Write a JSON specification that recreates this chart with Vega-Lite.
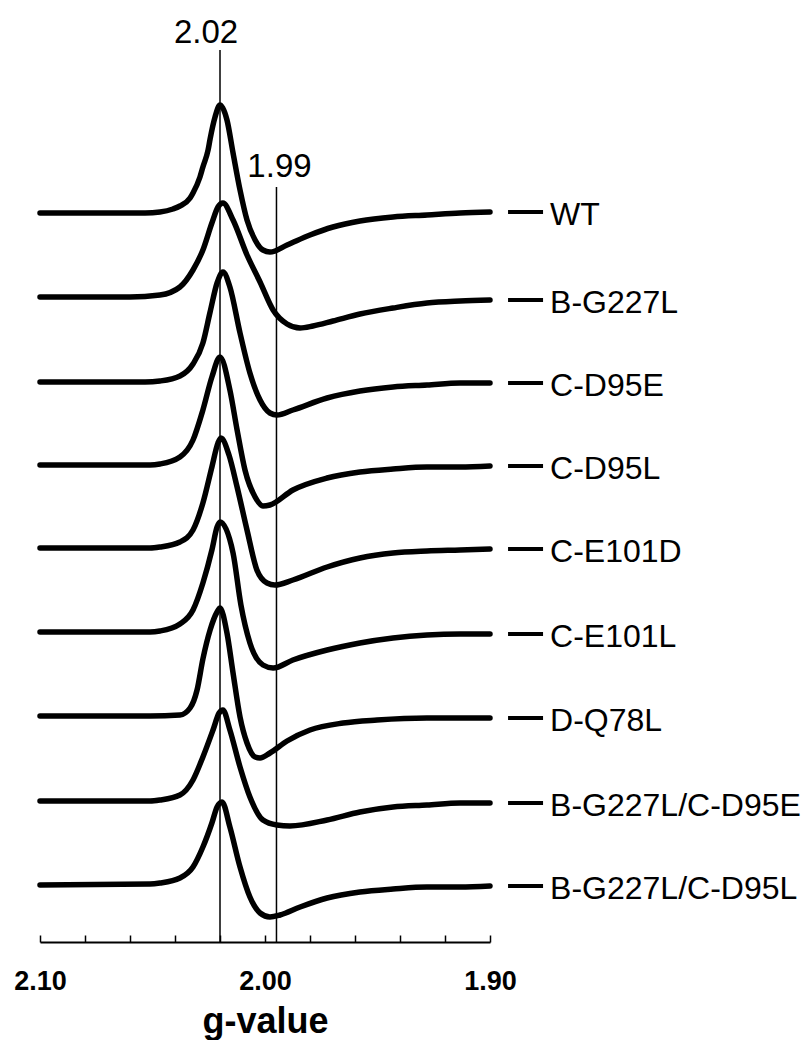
{
  "$schema": "https://vega.github.io/schema/vega-lite/v6.json",
  "autosize": {"type": "none"},
  "width": 450,
  "height": 942,
  "padding": {"left": 40, "top": 0, "right": 313, "bottom": 98},
  "background": "white",
  "config": {
    "view": {"stroke": null},
    "font": "Liberation Sans"
  },
  "datasets": {
    "markers": [
      {"g": 2.02, "bottom": 0, "top": 892},
      {"g": 1.9949, "bottom": 0, "top": 755}
    ],
    "spectra": [
      {"sample": "WT", "g": 2.1, "v": 729},
      {"sample": "WT", "g": 2.0733, "v": 729},
      {"sample": "WT", "g": 2.0533, "v": 729},
      {"sample": "WT", "g": 2.0467, "v": 730},
      {"sample": "WT", "g": 2.0409, "v": 733},
      {"sample": "WT", "g": 2.0378, "v": 736},
      {"sample": "WT", "g": 2.0333, "v": 744},
      {"sample": "WT", "g": 2.032, "v": 749},
      {"sample": "WT", "g": 2.0289, "v": 765},
      {"sample": "WT", "g": 2.0276, "v": 775},
      {"sample": "WT", "g": 2.0253, "v": 792},
      {"sample": "WT", "g": 2.0244, "v": 803},
      {"sample": "WT", "g": 2.0222, "v": 825},
      {"sample": "WT", "g": 2.02, "v": 837},
      {"sample": "WT", "g": 2.0169, "v": 822},
      {"sample": "WT", "g": 2.0142, "v": 789},
      {"sample": "WT", "g": 2.0111, "v": 752},
      {"sample": "WT", "g": 2.008, "v": 722},
      {"sample": "WT", "g": 2.0044, "v": 702},
      {"sample": "WT", "g": 2.0009, "v": 692},
      {"sample": "WT", "g": 1.9978, "v": 690},
      {"sample": "WT", "g": 1.9902, "v": 697},
      {"sample": "WT", "g": 1.98, "v": 707},
      {"sample": "WT", "g": 1.9698, "v": 715},
      {"sample": "WT", "g": 1.9578, "v": 721},
      {"sample": "WT", "g": 1.9431, "v": 725},
      {"sample": "WT", "g": 1.928, "v": 727},
      {"sample": "WT", "g": 1.9133, "v": 729},
      {"sample": "WT", "g": 1.9, "v": 730},

      {"sample": "B-G227L", "g": 2.1, "v": 645},
      {"sample": "B-G227L", "g": 2.06, "v": 645},
      {"sample": "B-G227L", "g": 2.0467, "v": 647},
      {"sample": "B-G227L", "g": 2.0378, "v": 655},
      {"sample": "B-G227L", "g": 2.032, "v": 672},
      {"sample": "B-G227L", "g": 2.0276, "v": 692},
      {"sample": "B-G227L", "g": 2.0236, "v": 719},
      {"sample": "B-G227L", "g": 2.0209, "v": 735},
      {"sample": "B-G227L", "g": 2.0187, "v": 739},
      {"sample": "B-G227L", "g": 2.0142, "v": 722},
      {"sample": "B-G227L", "g": 2.008, "v": 687},
      {"sample": "B-G227L", "g": 2.0022, "v": 660},
      {"sample": "B-G227L", "g": 1.9964, "v": 632},
      {"sample": "B-G227L", "g": 1.9902, "v": 618},
      {"sample": "B-G227L", "g": 1.9844, "v": 614},
      {"sample": "B-G227L", "g": 1.9787, "v": 616},
      {"sample": "B-G227L", "g": 1.9698, "v": 621},
      {"sample": "B-G227L", "g": 1.9578, "v": 628},
      {"sample": "B-G227L", "g": 1.9431, "v": 634},
      {"sample": "B-G227L", "g": 1.928, "v": 639},
      {"sample": "B-G227L", "g": 1.9133, "v": 641},
      {"sample": "B-G227L", "g": 1.9, "v": 642},

      {"sample": "C-D95E", "g": 2.1, "v": 560},
      {"sample": "C-D95E", "g": 2.0533, "v": 560},
      {"sample": "C-D95E", "g": 2.0467, "v": 561},
      {"sample": "C-D95E", "g": 2.0378, "v": 566},
      {"sample": "C-D95E", "g": 2.032, "v": 578},
      {"sample": "C-D95E", "g": 2.0276, "v": 599},
      {"sample": "C-D95E", "g": 2.0244, "v": 630},
      {"sample": "C-D95E", "g": 2.0213, "v": 659},
      {"sample": "C-D95E", "g": 2.0187, "v": 670},
      {"sample": "C-D95E", "g": 2.0156, "v": 655},
      {"sample": "C-D95E", "g": 2.0111, "v": 609},
      {"sample": "C-D95E", "g": 2.0067, "v": 569},
      {"sample": "C-D95E", "g": 2.0022, "v": 542},
      {"sample": "C-D95E", "g": 1.9978, "v": 529},
      {"sample": "C-D95E", "g": 1.9947, "v": 527},
      {"sample": "C-D95E", "g": 1.9876, "v": 532},
      {"sample": "C-D95E", "g": 1.9724, "v": 544},
      {"sample": "C-D95E", "g": 1.9578, "v": 551},
      {"sample": "C-D95E", "g": 1.9431, "v": 555},
      {"sample": "C-D95E", "g": 1.928, "v": 557},
      {"sample": "C-D95E", "g": 1.9133, "v": 559},
      {"sample": "C-D95E", "g": 1.9, "v": 559},

      {"sample": "C-D95L", "g": 2.1, "v": 477},
      {"sample": "C-D95L", "g": 2.0511, "v": 477},
      {"sample": "C-D95L", "g": 2.0467, "v": 478},
      {"sample": "C-D95L", "g": 2.0378, "v": 485},
      {"sample": "C-D95L", "g": 2.032, "v": 502},
      {"sample": "C-D95L", "g": 2.0276, "v": 532},
      {"sample": "C-D95L", "g": 2.0236, "v": 565},
      {"sample": "C-D95L", "g": 2.02, "v": 585},
      {"sample": "C-D95L", "g": 2.0156, "v": 552},
      {"sample": "C-D95L", "g": 2.0124, "v": 512},
      {"sample": "C-D95L", "g": 2.0089, "v": 472},
      {"sample": "C-D95L", "g": 2.0044, "v": 445},
      {"sample": "C-D95L", "g": 2.0009, "v": 436},
      {"sample": "C-D95L", "g": 1.9978, "v": 437},
      {"sample": "C-D95L", "g": 1.9876, "v": 452},
      {"sample": "C-D95L", "g": 1.9724, "v": 464},
      {"sample": "C-D95L", "g": 1.9578, "v": 470},
      {"sample": "C-D95L", "g": 1.9431, "v": 473},
      {"sample": "C-D95L", "g": 1.928, "v": 475},
      {"sample": "C-D95L", "g": 1.9133, "v": 475},
      {"sample": "C-D95L", "g": 1.9, "v": 476},

      {"sample": "C-E101D", "g": 2.1, "v": 394},
      {"sample": "C-E101D", "g": 2.0511, "v": 394},
      {"sample": "C-E101D", "g": 2.0467, "v": 395},
      {"sample": "C-E101D", "g": 2.0378, "v": 400},
      {"sample": "C-E101D", "g": 2.032, "v": 412},
      {"sample": "C-E101D", "g": 2.0276, "v": 439},
      {"sample": "C-E101D", "g": 2.0236, "v": 475},
      {"sample": "C-E101D", "g": 2.0209, "v": 499},
      {"sample": "C-E101D", "g": 2.0196, "v": 504},
      {"sample": "C-E101D", "g": 2.016, "v": 487},
      {"sample": "C-E101D", "g": 2.0124, "v": 455},
      {"sample": "C-E101D", "g": 2.008, "v": 412},
      {"sample": "C-E101D", "g": 2.0036, "v": 372},
      {"sample": "C-E101D", "g": 1.9991, "v": 359},
      {"sample": "C-E101D", "g": 1.9956, "v": 357},
      {"sample": "C-E101D", "g": 1.9876, "v": 362},
      {"sample": "C-E101D", "g": 1.9724, "v": 375},
      {"sample": "C-E101D", "g": 1.9578, "v": 384},
      {"sample": "C-E101D", "g": 1.9431, "v": 389},
      {"sample": "C-E101D", "g": 1.928, "v": 391},
      {"sample": "C-E101D", "g": 1.9133, "v": 392},
      {"sample": "C-E101D", "g": 1.9, "v": 393},

      {"sample": "C-E101L", "g": 2.1, "v": 310},
      {"sample": "C-E101L", "g": 2.0511, "v": 310},
      {"sample": "C-E101L", "g": 2.0467, "v": 311},
      {"sample": "C-E101L", "g": 2.0378, "v": 318},
      {"sample": "C-E101L", "g": 2.032, "v": 332},
      {"sample": "C-E101L", "g": 2.0276, "v": 359},
      {"sample": "C-E101L", "g": 2.0236, "v": 392},
      {"sample": "C-E101L", "g": 2.0213, "v": 415},
      {"sample": "C-E101L", "g": 2.02, "v": 420},
      {"sample": "C-E101L", "g": 2.0142, "v": 389},
      {"sample": "C-E101L", "g": 2.0107, "v": 337},
      {"sample": "C-E101L", "g": 2.0067, "v": 299},
      {"sample": "C-E101L", "g": 2.0009, "v": 277},
      {"sample": "C-E101L", "g": 1.9964, "v": 274},
      {"sample": "C-E101L", "g": 1.9876, "v": 282},
      {"sample": "C-E101L", "g": 1.9724, "v": 292},
      {"sample": "C-E101L", "g": 1.9578, "v": 299},
      {"sample": "C-E101L", "g": 1.9431, "v": 304},
      {"sample": "C-E101L", "g": 1.928, "v": 307},
      {"sample": "C-E101L", "g": 1.9133, "v": 308},
      {"sample": "C-E101L", "g": 1.9, "v": 308},

      {"sample": "D-Q78L", "g": 2.1, "v": 226},
      {"sample": "D-Q78L", "g": 2.0511, "v": 226},
      {"sample": "D-Q78L", "g": 2.0378, "v": 227},
      {"sample": "D-Q78L", "g": 2.0333, "v": 234},
      {"sample": "D-Q78L", "g": 2.0302, "v": 252},
      {"sample": "D-Q78L", "g": 2.0276, "v": 283},
      {"sample": "D-Q78L", "g": 2.0244, "v": 312},
      {"sample": "D-Q78L", "g": 2.0213, "v": 330},
      {"sample": "D-Q78L", "g": 2.02, "v": 334},
      {"sample": "D-Q78L", "g": 2.0169, "v": 309},
      {"sample": "D-Q78L", "g": 2.0142, "v": 269},
      {"sample": "D-Q78L", "g": 2.0111, "v": 225},
      {"sample": "D-Q78L", "g": 2.008, "v": 199},
      {"sample": "D-Q78L", "g": 2.0044, "v": 185},
      {"sample": "D-Q78L", "g": 2.0022, "v": 184},
      {"sample": "D-Q78L", "g": 1.9978, "v": 189},
      {"sample": "D-Q78L", "g": 1.9902, "v": 201},
      {"sample": "D-Q78L", "g": 1.98, "v": 212},
      {"sample": "D-Q78L", "g": 1.9653, "v": 219},
      {"sample": "D-Q78L", "g": 1.9502, "v": 222},
      {"sample": "D-Q78L", "g": 1.928, "v": 224},
      {"sample": "D-Q78L", "g": 1.9133, "v": 224},
      {"sample": "D-Q78L", "g": 1.9, "v": 224},

      {"sample": "B-G227L/C-D95E", "g": 2.1, "v": 141},
      {"sample": "B-G227L/C-D95E", "g": 2.0511, "v": 141},
      {"sample": "B-G227L/C-D95E", "g": 2.0467, "v": 142},
      {"sample": "B-G227L/C-D95E", "g": 2.0378, "v": 147},
      {"sample": "B-G227L/C-D95E", "g": 2.032, "v": 162},
      {"sample": "B-G227L/C-D95E", "g": 2.0276, "v": 185},
      {"sample": "B-G227L/C-D95E", "g": 2.0231, "v": 212},
      {"sample": "B-G227L/C-D95E", "g": 2.0204, "v": 229},
      {"sample": "B-G227L/C-D95E", "g": 2.0187, "v": 232},
      {"sample": "B-G227L/C-D95E", "g": 2.0156, "v": 212},
      {"sample": "B-G227L/C-D95E", "g": 2.0111, "v": 175},
      {"sample": "B-G227L/C-D95E", "g": 2.0067, "v": 145},
      {"sample": "B-G227L/C-D95E", "g": 2.0009, "v": 122},
      {"sample": "B-G227L/C-D95E", "g": 1.9947, "v": 117},
      {"sample": "B-G227L/C-D95E", "g": 1.9889, "v": 116},
      {"sample": "B-G227L/C-D95E", "g": 1.9724, "v": 122},
      {"sample": "B-G227L/C-D95E", "g": 1.9578, "v": 130},
      {"sample": "B-G227L/C-D95E", "g": 1.9431, "v": 135},
      {"sample": "B-G227L/C-D95E", "g": 1.928, "v": 137},
      {"sample": "B-G227L/C-D95E", "g": 1.9133, "v": 139},
      {"sample": "B-G227L/C-D95E", "g": 1.9, "v": 139},

      {"sample": "B-G227L/C-D95L", "g": 2.1, "v": 57},
      {"sample": "B-G227L/C-D95L", "g": 2.0511, "v": 58},
      {"sample": "B-G227L/C-D95L", "g": 2.0467, "v": 59},
      {"sample": "B-G227L/C-D95L", "g": 2.0378, "v": 64},
      {"sample": "B-G227L/C-D95L", "g": 2.032, "v": 75},
      {"sample": "B-G227L/C-D95L", "g": 2.0276, "v": 95},
      {"sample": "B-G227L/C-D95L", "g": 2.0236, "v": 119},
      {"sample": "B-G227L/C-D95L", "g": 2.0213, "v": 135},
      {"sample": "B-G227L/C-D95L", "g": 2.0191, "v": 140},
      {"sample": "B-G227L/C-D95L", "g": 2.0156, "v": 115},
      {"sample": "B-G227L/C-D95L", "g": 2.0111, "v": 75},
      {"sample": "B-G227L/C-D95L", "g": 2.0067, "v": 45},
      {"sample": "B-G227L/C-D95L", "g": 2.0022, "v": 29},
      {"sample": "B-G227L/C-D95L", "g": 1.9978, "v": 25},
      {"sample": "B-G227L/C-D95L", "g": 1.9933, "v": 27},
      {"sample": "B-G227L/C-D95L", "g": 1.9844, "v": 35},
      {"sample": "B-G227L/C-D95L", "g": 1.9724, "v": 44},
      {"sample": "B-G227L/C-D95L", "g": 1.9578, "v": 50},
      {"sample": "B-G227L/C-D95L", "g": 1.9431, "v": 53},
      {"sample": "B-G227L/C-D95L", "g": 1.928, "v": 55},
      {"sample": "B-G227L/C-D95L", "g": 1.9133, "v": 55},
      {"sample": "B-G227L/C-D95L", "g": 1.9, "v": 56}
    ]
  },
  "layer": [
    {
      "data": {"name": "markers"},
      "mark": {"type": "rule", "color": "black", "strokeWidth": 1.5},
      "encoding": {
        "x": {"field": "g", "type": "quantitative", "scale": {"domain": [2.1, 1.9], "nice": false, "zero": false},
          "axis": {
            "values": [2.1, 2.08, 2.06, 2.04, 2.02, 2.0, 1.98, 1.96, 1.94, 1.92, 1.9],
            "labelExpr": "abs(datum.value * 10 - round(datum.value * 10)) < 0.01 ? format(datum.value, '.2f') : ''",
            "grid": false,
            "domainColor": "black",
            "domainWidth": 2,
            "tickColor": "black",
            "tickWidth": 1.5,
            "tickSize": -7,
            "labelFont": "Liberation Sans",
            "labelFontWeight": "bold",
            "labelFontSize": 27,
            "labelColor": "black",
            "labelPadding": 33,
            "labelFlush": false,
            "labelOverlap": false,
            "labelBound": false,
            "title": "g-value",
            "titleFont": "Liberation Sans",
            "titleFontWeight": "bold",
            "titleFontSize": 36,
            "titleColor": "black",
            "titlePadding": 10
          }
        },
        "y": {"field": "bottom", "type": "quantitative", "scale": {"domain": [0, 942], "nice": false, "zero": false}, "axis": null},
        "y2": {"field": "top"}
      }
    },
    {
      "data": {"name": "markers"},
      "transform": [{"filter": "datum.g > 2"}],
      "mark": {"type": "text", "font": "Liberation Sans", "fontSize": 33, "color": "black", "align": "center", "baseline": "alphabetic", "dx": -14, "dy": -7},
      "encoding": {
        "x": {"field": "g", "type": "quantitative"},
        "y": {"field": "top", "type": "quantitative"},
        "text": {"field": "g", "type": "quantitative", "format": ".2f"}
      }
    },
    {
      "data": {"name": "markers"},
      "transform": [{"filter": "datum.g < 2"}],
      "mark": {"type": "text", "font": "Liberation Sans", "fontSize": 33, "color": "black", "align": "center", "baseline": "alphabetic", "dx": 3, "dy": -10},
      "encoding": {
        "x": {"field": "g", "type": "quantitative"},
        "y": {"field": "top", "type": "quantitative"},
        "text": {"field": "g", "type": "quantitative", "format": ".2f"}
      }
    },
    {
      "data": {"name": "spectra"},
      "mark": {"type": "line", "interpolate": "monotone", "color": "black", "strokeWidth": 5.5, "strokeCap": "round", "strokeJoin": "round"},
      "encoding": {
        "x": {"field": "g", "type": "quantitative"},
        "y": {"field": "v", "type": "quantitative"},
        "detail": {"field": "sample", "type": "nominal"}
      }
    },
    {
      "data": {"name": "spectra"},
      "transform": [{"filter": "datum.g == 1.9"}],
      "mark": {"type": "tick", "orient": "horizontal", "color": "black", "opacity": 1, "size": 35, "thickness": 4},
      "encoding": {
        "x": {"datum": 1.8842, "type": "quantitative"},
        "y": {"field": "v", "type": "quantitative"}
      }
    },
    {
      "data": {"name": "spectra"},
      "transform": [{"filter": "datum.g == 1.9"}],
      "mark": {"type": "text", "font": "Liberation Sans", "fontSize": 32, "color": "black", "align": "left", "baseline": "middle", "dy": 3},
      "encoding": {
        "x": {"datum": 1.8733, "type": "quantitative"},
        "y": {"field": "v", "type": "quantitative"},
        "text": {"field": "sample", "type": "nominal"}
      }
    }
  ]
}
